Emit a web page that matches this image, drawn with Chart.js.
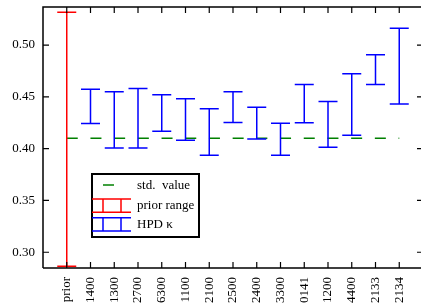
<!DOCTYPE html>
<html>
<head>
<meta charset="utf-8">
<script src="https://cdn.jsdelivr.net/npm/chart.js@4/dist/chart.umd.min.js"></script>
<style>
  html, body { margin: 0; padding: 0; background: #fff; overflow: hidden; }
  #wrap { width: 424px; height: 307px; }
</style>
</head>
<body>
<div id="wrap"><canvas id="chart"></canvas></div>
<script>
// categories along the x axis, "prior" first
const categories = ['prior', '1400', '1300', '2700', '6300', '1100', '2100', '2500',
                    '2400', '3300', '0141', '1200', '4400', '2133', '2134'];

// prior range (red)
const priorLow = 0.2865;
const priorHigh = 0.5316;

// HPD interval of kappa per site (blue), same order as categories[1..]
const hpdLow  = [0.4243, 0.4007, 0.4007, 0.4168, 0.4081, 0.3936, 0.4252,
                 0.4094, 0.3936, 0.4249, 0.4014, 0.4130, 0.4620, 0.4432];
const hpdHigh = [0.4572, 0.4548, 0.4581, 0.4520, 0.4481, 0.4384, 0.4548,
                 0.4400, 0.4246, 0.4620, 0.4455, 0.4723, 0.4906, 0.5161];

// standard value of kappa
const stdValue = 0.41;

const yTicks = [0.30, 0.35, 0.40, 0.45, 0.50];

const serif = '"Liberation Serif", "DejaVu Serif", serif';

// error bars, inward ticks, frame and legend box
const drawExtras = {
    id: 'drawExtras',
    afterDatasetsDraw(chart) {
        const ctx = chart.ctx;
        const xs = chart.scales.x;
        const ys = chart.scales.y;
        const a = chart.chartArea;

        const bar = (i, lo, hi, color) => {
            const x = xs.getPixelForValue(i);
            const y1 = ys.getPixelForValue(lo);
            const y2 = ys.getPixelForValue(hi);
            ctx.strokeStyle = color;
            ctx.lineWidth = 1.5;
            ctx.beginPath();
            ctx.moveTo(x, y1); ctx.lineTo(x, y2);
            ctx.moveTo(x - 9.5, y1); ctx.lineTo(x + 9.5, y1);
            ctx.moveTo(x - 9.5, y2); ctx.lineTo(x + 9.5, y2);
            ctx.stroke();
        };

        ctx.save();
        bar(0, priorLow, priorHigh, '#ff0000');
        hpdLow.forEach((lo, k) => bar(k + 1, lo, hpdHigh[k], '#0000ff'));

        // frame
        ctx.strokeStyle = '#000';
        ctx.lineWidth = 1.5;
        ctx.beginPath();
        ctx.moveTo(a.left, a.bottom); ctx.lineTo(a.left, a.top);
        ctx.lineTo(a.right, a.top); ctx.lineTo(a.right, a.bottom);
        ctx.lineTo(a.left, a.bottom);
        ctx.stroke();

        // inward ticks
        ctx.lineWidth = 1.2;
        ctx.beginPath();
        categories.forEach((c, i) => {
            const x = xs.getPixelForValue(i);
            ctx.moveTo(x, a.bottom); ctx.lineTo(x, a.bottom - 6);
            ctx.moveTo(x, a.top); ctx.lineTo(x, a.top + 6);
        });
        yTicks.forEach(v => {
            const y = ys.getPixelForValue(v);
            ctx.moveTo(a.left, y); ctx.lineTo(a.left + 6, y);
            ctx.moveTo(a.right, y); ctx.lineTo(a.right - 6, y);
        });
        ctx.stroke();

        // legend
        const bx = a.left + 49, by = a.top + 167, bw = 107, bh = 63;
        ctx.fillStyle = '#fff';
        ctx.fillRect(bx, by, bw, bh);
        ctx.strokeStyle = '#000';
        ctx.lineWidth = 2;
        ctx.strokeRect(bx, by, bw, bh);

        ctx.lineWidth = 1.5;
        ctx.strokeStyle = '#008000';
        ctx.beginPath();
        ctx.moveTo(bx + 11, by + 11); ctx.lineTo(bx + 22, by + 11);
        ctx.stroke();

        const glyph = (top, color) => {
            ctx.strokeStyle = color;
            ctx.beginPath();
            ctx.moveTo(bx, top); ctx.lineTo(bx + 39, top);
            ctx.moveTo(bx, top + 13.3); ctx.lineTo(bx + 39, top + 13.3);
            ctx.moveTo(bx + 11, top); ctx.lineTo(bx + 11, top + 13.3);
            ctx.moveTo(bx + 29, top); ctx.lineTo(bx + 29, top + 13.3);
            ctx.stroke();
        };
        glyph(by + 25, '#ff0000');
        glyph(by + 43.7, '#0000ff');

        ctx.fillStyle = '#000';
        ctx.font = '13px ' + serif;
        ctx.textBaseline = 'middle';
        ctx.textAlign = 'left';
        ctx.fillText('std.  value', bx + 45, by + 12);
        ctx.fillText('prior range', bx + 45, by + 31.5);
        ctx.fillText('HPD \u03ba', bx + 45, by + 50.5);
        ctx.restore();
    }
};

new Chart(document.getElementById('chart'), {
    type: 'line',
    data: {
        datasets: [{
            label: 'std. value',
            data: [{ x: 0, y: stdValue }, { x: categories.length - 1, y: stdValue }],
            borderColor: '#008000',
            borderWidth: 1.5,
            borderDash: [11, 12.7],
            pointRadius: 0,
            pointHoverRadius: 0,
            fill: false
        }]
    },
    options: {
        responsive: true,
        maintainAspectRatio: false,
        animation: false,
        devicePixelRatio: 1,
        layout: { autoPadding: false, padding: { top: 7, right: 1, left: 0, bottom: 0 } },
        plugins: {
            legend: { display: false },
            tooltip: { enabled: false }
        },
        scales: {
            x: {
                type: 'linear',
                min: -1,
                max: categories.length,
                grid: { display: false, drawTicks: false },
                border: { display: false },
                afterBuildTicks: (s) => {
                    s.ticks = categories.map((c, i) => ({ value: i }));
                },
                afterFit: (s) => { s.height = 39; s.paddingLeft = 0; s.paddingRight = 0; },
                ticks: {
                    autoSkip: false,
                    minRotation: 90,
                    maxRotation: 90,
                    padding: 9,
                    color: '#000',
                    font: { family: serif, size: 13 },
                    callback: (v) => categories[v] ?? ''
                }
            },
            y: {
                min: 0.2848,
                max: 0.5367,
                grid: { display: false, drawTicks: false },
                border: { display: false },
                afterBuildTicks: (s) => {
                    s.ticks = yTicks.map(v => ({ value: v }));
                },
                afterFit: (s) => { s.width = 43; s.paddingTop = 0; s.paddingBottom = 0; },
                ticks: {
                    padding: 8,
                    color: '#000',
                    font: { family: serif, size: 13 },
                    callback: (v) => v.toFixed(2)
                }
            }
        }
    },
    plugins: [drawExtras]
});
</script>
</body>
</html>
